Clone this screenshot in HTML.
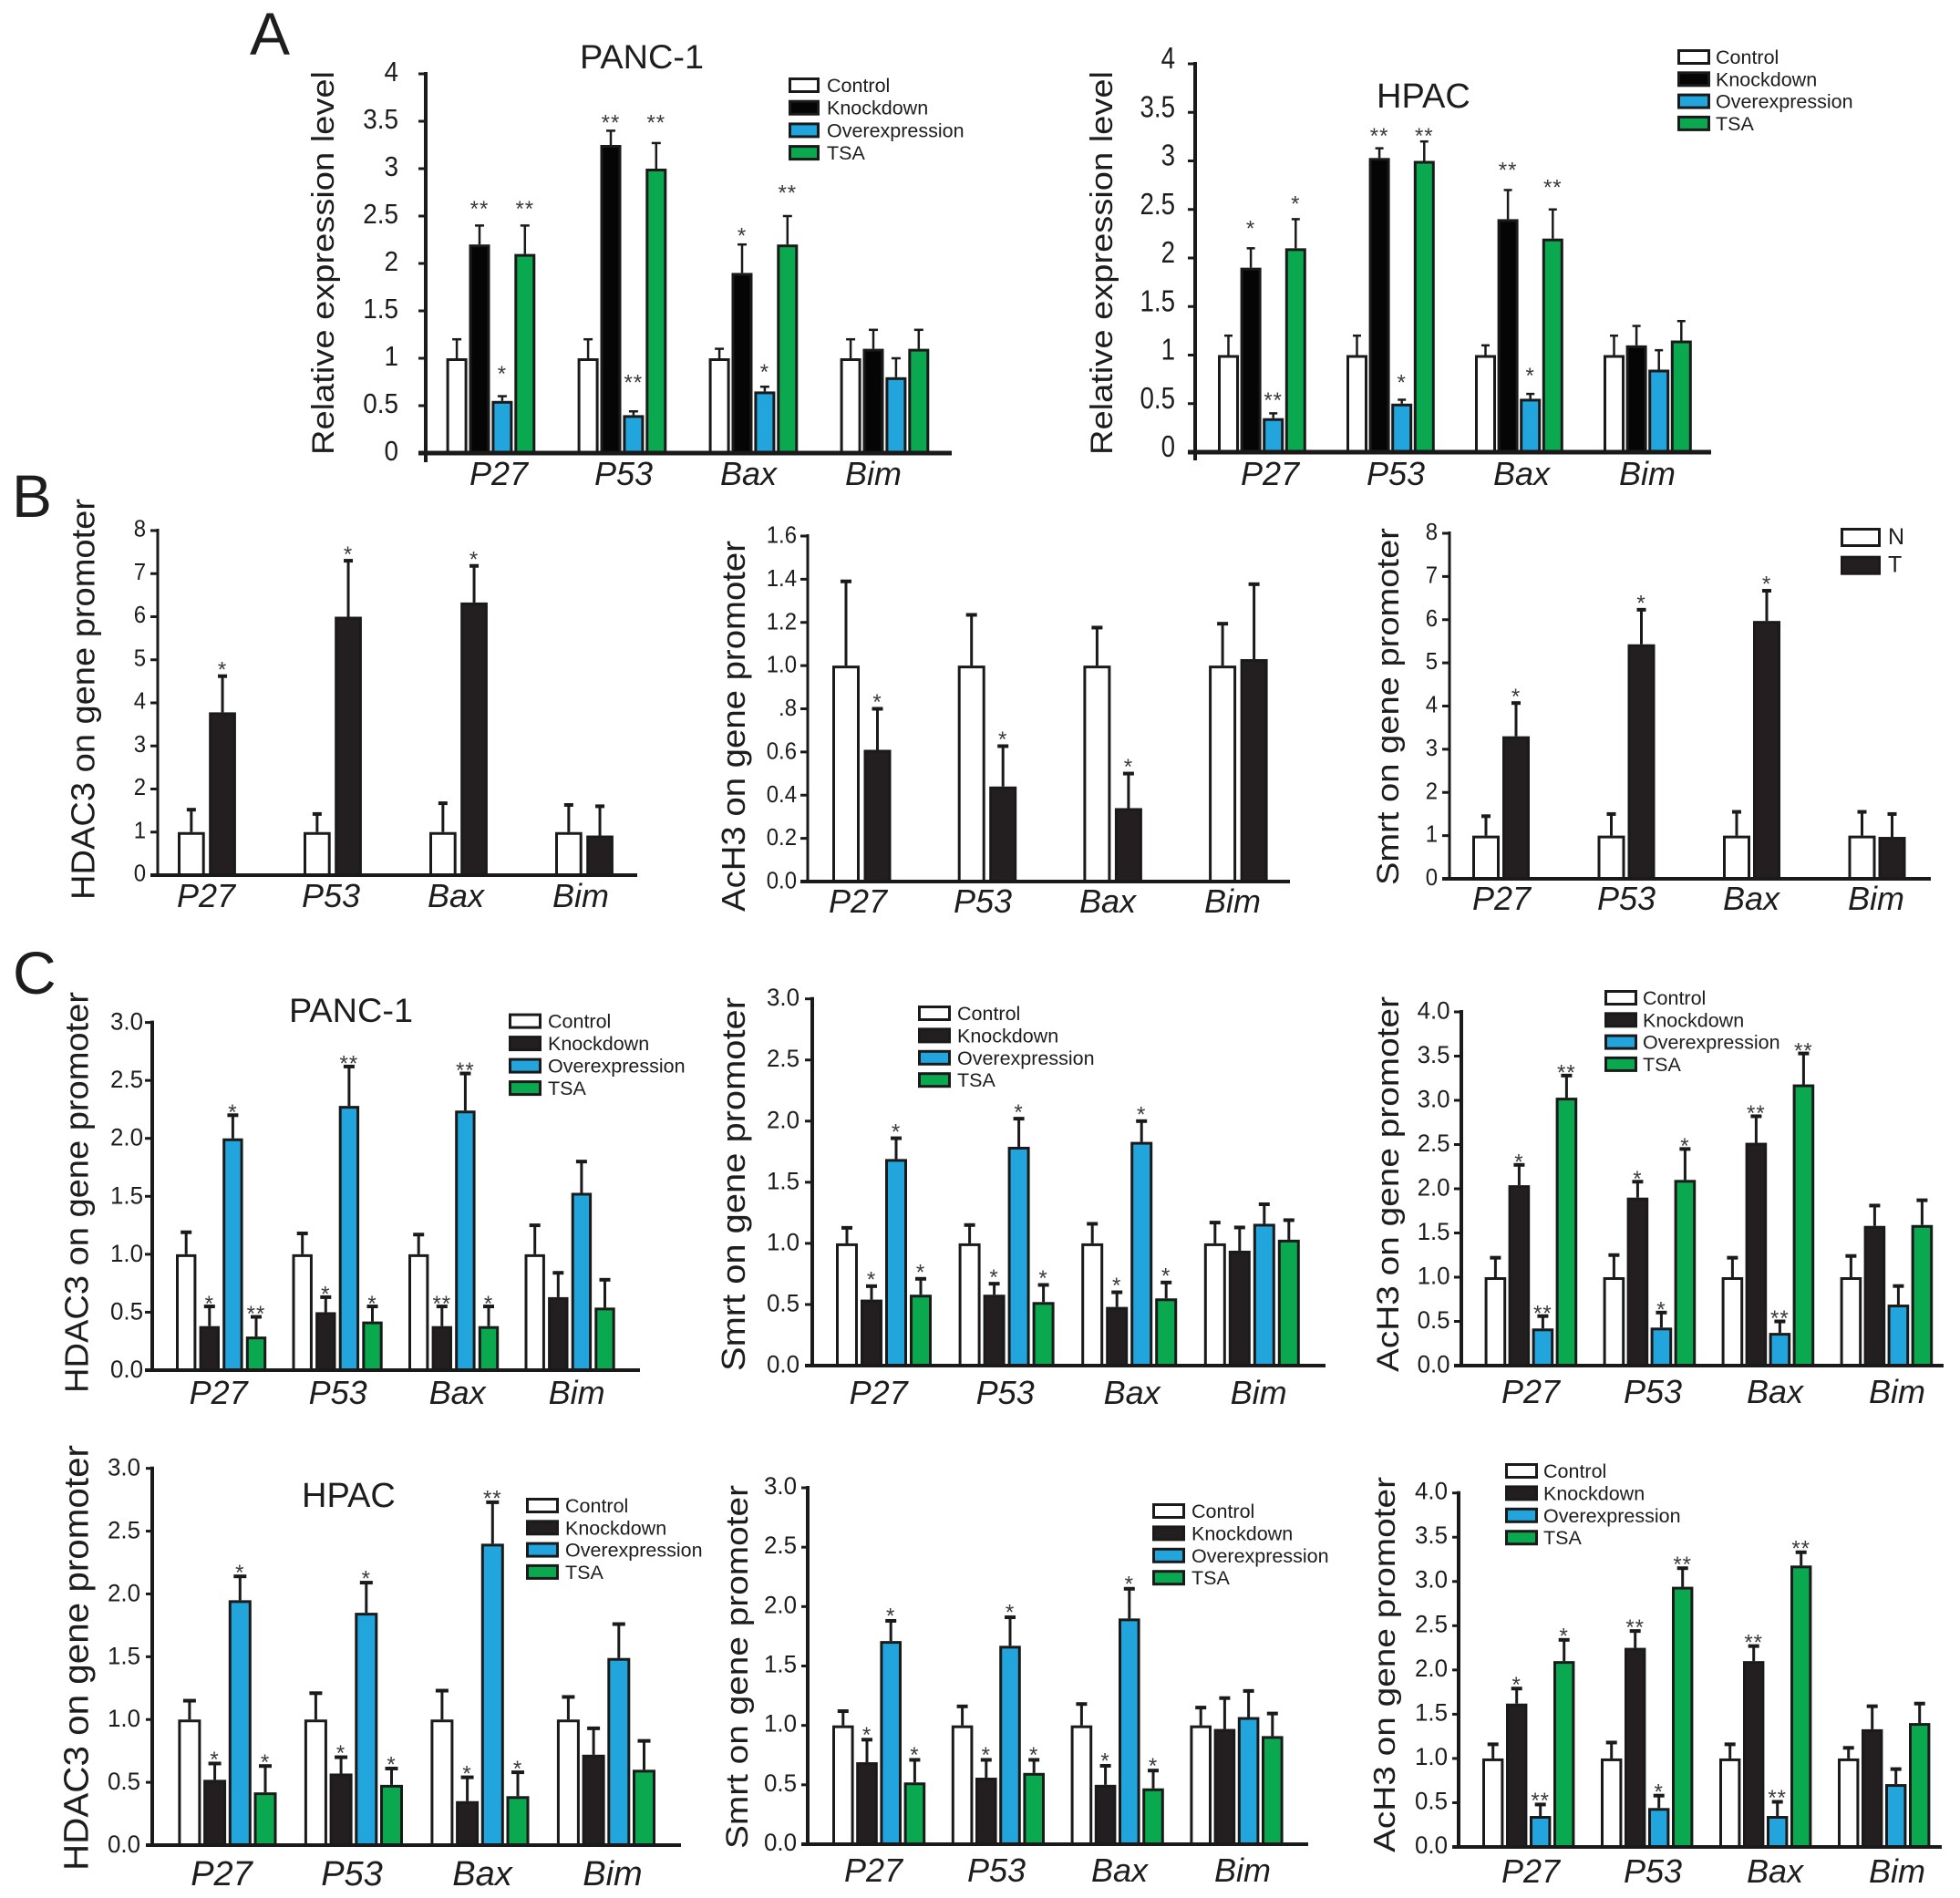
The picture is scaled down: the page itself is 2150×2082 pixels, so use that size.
<!DOCTYPE html>
<html lang="en">
<head>
<meta charset="utf-8">
<title>HDAC3 promoter occupancy and gene expression figure</title>
<style>
html,body{margin:0;padding:0;background:#fff;}
svg{display:block;font-family:"Liberation Sans",sans-serif;fill:#1d1d1d;}
</style>
</head>
<body>
<svg id="figure" xmlns="http://www.w3.org/2000/svg" width="2150" height="2082" viewBox="0 0 2150 2082">
  <rect width="2150" height="2082" fill="#fff"/>
  <text x="274" y="60" font-size="66">A</text>
  <text x="13" y="567" font-size="66">B</text>
  <text x="14" y="1090" font-size="66">C</text>

  <g id="a1">
    <text x="636" y="75" font-size="37" textLength="136" lengthAdjust="spacingAndGlyphs">PANC-1</text>
    <text transform="translate(366,499) rotate(-90)" font-size="34" textLength="421" lengthAdjust="spacingAndGlyphs">Relative expression level</text>
  </g>
  <g id="a2">
    <text x="1510" y="118" font-size="38">HPAC</text>
    <text transform="translate(1220,499) rotate(-90)" font-size="34" textLength="421" lengthAdjust="spacingAndGlyphs">Relative expression level</text>
  </g>
  <g id="b1">
    <text transform="translate(103.5,987) rotate(-90)" font-size="36" textLength="440" lengthAdjust="spacingAndGlyphs">HDAC3 on gene promoter</text>
  </g>
  <g id="b2">
    <text transform="translate(817,1000) rotate(-90)" font-size="36" textLength="407" lengthAdjust="spacingAndGlyphs">AcH3 on gene promoter</text>
  </g>
  <g id="b3">
    <text transform="translate(1534,971) rotate(-90)" font-size="34" textLength="392" lengthAdjust="spacingAndGlyphs">Smrt on gene promoter</text>
  </g>
  <g id="c1">
    <text x="317" y="1121" font-size="37" textLength="136" lengthAdjust="spacingAndGlyphs">PANC-1</text>
    <text transform="translate(96.5,1528) rotate(-90)" font-size="36" textLength="440" lengthAdjust="spacingAndGlyphs">HDAC3 on gene promoter</text>
  </g>
  <g id="c2">
    <text transform="translate(817,1504) rotate(-90)" font-size="36" textLength="410" lengthAdjust="spacingAndGlyphs">Smrt on gene promoter</text>
  </g>
  <g id="c3">
    <text transform="translate(1534,1505) rotate(-90)" font-size="34" textLength="412" lengthAdjust="spacingAndGlyphs">AcH3 on gene promoter</text>
  </g>
  <g id="c4">
    <text x="331" y="1653" font-size="38">HPAC</text>
    <text transform="translate(96.5,2052) rotate(-90)" font-size="38" textLength="467" lengthAdjust="spacingAndGlyphs">HDAC3 on gene promoter</text>
  </g>
  <g id="c5">
    <text transform="translate(820,2028) rotate(-90)" font-size="34" textLength="399" lengthAdjust="spacingAndGlyphs">Smrt on gene promoter</text>
  </g>
  <g id="c6">
    <text transform="translate(1530,2032) rotate(-90)" font-size="33" textLength="412" lengthAdjust="spacingAndGlyphs">AcH3 on gene promoter</text>
  </g>
</svg>

<script>
/* ---------- shared labels ---------- */
const categories = ['P27', 'P53', 'Bax', 'Bim'];
const treatmentNames = ['Control', 'Knockdown', 'Overexpression', 'TSA'];
const tissueNames = ['N', 'T'];

/* ---------- tick values and labels ---------- */
const ticksExpr = [0, 0.5, 1, 1.5, 2, 2.5, 3, 3.5, 4];
const ticksExprLabels = ['0', '0.5', '1', '1.5', '2', '2.5', '3', '3.5', '4'];
const ticksEight = [0, 1, 2, 3, 4, 5, 6, 7, 8];
const ticksEightLabels = ['0', '1', '2', '3', '4', '5', '6', '7', '8'];
const ticksAch = [0, 0.2, 0.4, 0.6, 0.8, 1, 1.2, 1.4, 1.6];
const ticksAchLabels = ['0.0', '0.2', '0.4', '0.6', '.8', '1.0', '1.2', '1.4', '1.6'];
const ticksThree = [0, 0.5, 1, 1.5, 2, 2.5, 3];
const ticksThreeLabels = ['0.0', '0.5', '1.0', '1.5', '2.0', '2.5', '3.0'];
const ticksFour = [0, 0.5, 1, 1.5, 2, 2.5, 3, 3.5, 4];
const ticksFourLabels = ['0.0', '0.5', '1.0', '1.5', '2.0', '2.5', '3.0', '3.5', '4.0'];

/* ---------- A: PANC-1 expression ---------- */
const a1Control = [1, 1, 1, 1];
const a1Knockdown = [2.2, 3.25, 1.9, 1.1];
const a1Over = [0.55, 0.4, 0.65, 0.8];
const a1Tsa = [2.1, 3, 2.2, 1.1];
const a1ControlTop = [1.2, 1.2, 1.1, 1.2];
const a1KnockdownTop = [2.4, 3.4, 2.2, 1.3];
const a1OverTop = [0.6, 0.44, 0.7, 1];
const a1TsaTop = [2.4, 3.27, 2.5, 1.3];
const a1Sig = [['', '**', '*', '**'], ['', '**', '**', '**'], ['', '*', '*', '**'], ['', '', '', '']];
const a1SigLevel = [[0, 2.63, 0.89, 2.63], [0, 3.54, 0.8, 3.54], [0, 2.35, 0.91, 2.8], [0, 0, 0, 0]];

/* ---------- A: HPAC expression ---------- */
const a2Control = [1, 1, 1, 1];
const a2Knockdown = [1.9, 3.03, 2.4, 1.1];
const a2Over = [0.35, 0.5, 0.55, 0.85];
const a2Tsa = [2.1, 3, 2.2, 1.15];
const a2ControlTop = [1.2, 1.2, 1.1, 1.2];
const a2KnockdownTop = [2.1, 3.13, 2.7, 1.3];
const a2OverTop = [0.4, 0.54, 0.6, 1.05];
const a2TsaTop = [2.4, 3.2, 2.5, 1.35];
const a2Sig = [['', '*', '**', '*'], ['', '**', '*', '**'], ['', '**', '*', '**'], ['', '', '', '']];
const a2SigLevel = [[0, 2.36, 0.59, 2.61], [0, 3.31, 0.77, 3.31], [0, 2.96, 0.84, 2.78], [0, 0, 0, 0]];

/* ---------- B: tissue ChIP ---------- */
const b1Normal = [1, 1, 1, 1];
const b1Tumor = [3.78, 6, 6.33, 0.92];
const b1NormalTop = [1.52, 1.42, 1.67, 1.63];
const b1TumorTop = [4.62, 7.3, 7.18, 1.6];
const b1Sig = [['', '*'], ['', '*'], ['', '*'], ['', '']];

const b2Normal = [1, 1, 1, 1];
const b2Tumor = [0.61, 0.44, 0.34, 1.03];
const b2NormalTop = [1.39, 1.235, 1.176, 1.194];
const b2TumorTop = [0.8, 0.627, 0.5, 1.377];
const b2Sig = [['', '*'], ['', '*'], ['', '*'], ['', '']];

const b3Normal = [1, 1, 1, 1];
const b3Tumor = [3.3, 5.43, 5.97, 0.97];
const b3NormalTop = [1.45, 1.5, 1.55, 1.55];
const b3TumorTop = [4.07, 6.23, 6.67, 1.5];
const b3Sig = [['', '*'], ['', '*'], ['', '*'], ['', '']];

/* ---------- C: PANC-1 ChIP ---------- */
const c1Control = [1, 1, 1, 1];
const c1Knockdown = [0.38, 0.5, 0.38, 0.63];
const c1Over = [2, 2.28, 2.24, 1.53];
const c1Tsa = [0.29, 0.42, 0.38, 0.54];
const c1ControlTop = [1.19, 1.18, 1.17, 1.25];
const c1KnockdownTop = [0.55, 0.63, 0.55, 0.84];
const c1OverTop = [2.2, 2.62, 2.56, 1.8];
const c1TsaTop = [0.46, 0.55, 0.55, 0.78];
const c1Sig = [['', '*', '*', '**'], ['', '*', '**', '*'], ['', '**', '**', '*'], ['', '', '', '']];

const c2Control = [1, 1, 1, 1];
const c2Knockdown = [0.54, 0.58, 0.48, 0.94];
const c2Over = [1.69, 1.79, 1.83, 1.16];
const c2Tsa = [0.58, 0.52, 0.55, 1.03];
const c2ControlTop = [1.127, 1.15, 1.16, 1.17];
const c2KnockdownTop = [0.65, 0.67, 0.6, 1.13];
const c2OverTop = [1.86, 2.02, 2, 1.32];
const c2TsaTop = [0.71, 0.66, 0.68, 1.19];
const c2Sig = [['', '*', '*', '*'], ['', '*', '*', '*'], ['', '*', '*', '*'], ['', '', '', '']];

const c3Control = [1, 1, 1, 1];
const c3Knockdown = [2.04, 1.9, 2.52, 1.58];
const c3Over = [0.42, 0.43, 0.37, 0.69];
const c3Tsa = [3.03, 2.1, 3.18, 1.59];
const c3ControlTop = [1.22, 1.25, 1.22, 1.24];
const c3KnockdownTop = [2.27, 2.08, 2.82, 1.81];
const c3OverTop = [0.56, 0.6, 0.5, 0.9];
const c3TsaTop = [3.28, 2.45, 3.53, 1.87];
const c3Sig = [['', '*', '**', '**'], ['', '*', '*', '*'], ['', '**', '**', '**'], ['', '', '', '']];

/* ---------- C: HPAC ChIP ---------- */
const c4Control = [1, 1, 1, 1];
const c4Knockdown = [0.52, 0.57, 0.35, 0.72];
const c4Over = [1.95, 1.85, 2.4, 1.49];
const c4Tsa = [0.42, 0.48, 0.39, 0.6];
const c4ControlTop = [1.15, 1.21, 1.23, 1.18];
const c4KnockdownTop = [0.65, 0.7, 0.54, 0.93];
const c4OverTop = [2.14, 2.09, 2.73, 1.76];
const c4TsaTop = [0.63, 0.61, 0.58, 0.83];
const c4Sig = [['', '*', '*', '*'], ['', '*', '*', '*'], ['', '*', '**', '*'], ['', '', '', '']];

const c5Control = [1, 1, 1, 1];
const c5Knockdown = [0.69, 0.56, 0.5, 0.97];
const c5Over = [1.71, 1.67, 1.9, 1.07];
const c5Tsa = [0.52, 0.6, 0.47, 0.91];
const c5ControlTop = [1.12, 1.16, 1.18, 1.15];
const c5KnockdownTop = [0.88, 0.71, 0.66, 1.23];
const c5OverTop = [1.88, 1.91, 2.15, 1.29];
const c5TsaTop = [0.71, 0.71, 0.62, 1.1];
const c5Sig = [['', '*', '*', '*'], ['', '*', '*', '*'], ['', '*', '*', '*'], ['', '', '', '']];

const c6Control = [1, 1, 1, 1];
const c6Knockdown = [1.62, 2.25, 2.1, 1.33];
const c6Over = [0.35, 0.44, 0.35, 0.71];
const c6Tsa = [2.1, 2.94, 3.18, 1.4];
const c6ControlTop = [1.16, 1.18, 1.16, 1.12];
const c6KnockdownTop = [1.79, 2.44, 2.27, 1.59];
const c6OverTop = [0.48, 0.58, 0.51, 0.88];
const c6TsaTop = [2.34, 3.15, 3.33, 1.62];
const c6Sig = [['', '*', '**', '*'], ['', '**', '*', '**'], ['', '**', '**', '**'], ['', '', '', '']];

/* ---------- panel layouts ---------- */
const COLOR_WHITE = '#ffffff', COLOR_BLACK = '#231f20', COLOR_DEEP = '#050505', COLOR_BLUE = '#22a5dd', COLOR_GREEN = '#0aa84f';
const fourFills = [COLOR_WHITE, COLOR_BLACK, COLOR_BLUE, COLOR_GREEN];
const fourFillsDeep = [COLOR_WHITE, COLOR_DEEP, COLOR_BLUE, COLOR_GREEN];
const twoFills = [COLOR_WHITE, COLOR_BLACK];

const panels = [
  {id:'a1', series:[a1Control,a1Knockdown,a1Over,a1Tsa], tops:[a1ControlTop,a1KnockdownTop,a1OverTop,a1TsaTop], sig:a1Sig, sigLevel:a1SigLevel,
   ticks:ticksExpr, tickLabels:ticksExprLabels, max:4, base:497, top:81, axisX:467, endX:1044, tickLen:8, axisW:4, baseW:5, below:10,
   start:489.6, groupPitch:144, barPitch:24.9, barW:23, sw:3, capW:10, capH:2.5, errW:2.5, starGap:15, fills:fourFillsDeep,
   tickFs:31, tickX:437, tickSx:0.9, tickDy:-3, labelX0:547, labelPitch:137, labelY:532, labelFs:36,
   legend:{x:865,y:85,pitch:24.7,w:34,h:16,tx:907,fs:21.5,names:treatmentNames}},
  {id:'a2', series:[a2Control,a2Knockdown,a2Over,a2Tsa], tops:[a2ControlTop,a2KnockdownTop,a2OverTop,a2TsaTop], sig:a2Sig, sigLevel:a2SigLevel,
   ticks:ticksExpr, tickLabels:ticksExprLabels, max:4, base:496, top:70, axisX:1311, endX:1877, tickLen:8, axisW:4, baseW:5, below:9,
   start:1336, groupPitch:141, barPitch:24.6, barW:23, sw:3, capW:9, capH:2.5, errW:2.5, starGap:19, fills:fourFillsDeep,
   tickFs:33, tickX:1289, tickSx:0.84, tickDy:-6.5, labelX0:1393, labelPitch:138, labelY:532, labelFs:36,
   legend:{x:1840,y:54,pitch:24.3,w:36,h:16,tx:1882,fs:21.5,names:treatmentNames}},
  {id:'b1', series:[b1Normal,b1Tumor], tops:[b1NormalTop,b1TumorTop], sig:b1Sig,
   ticks:ticksEight, tickLabels:ticksEightLabels, max:8, base:960, top:582, axisX:173, endX:699, tickLen:8, axisW:3, baseW:4, below:0,
   start:195, groupPitch:138, barPitch:34.2, barW:29.7, sw:3, capW:10, capH:4, errW:3, starGap:13, fills:twoFills,
   tickFs:26, tickX:160, tickSx:0.92, tickDy:-2.5, labelX0:226, labelPitch:137, labelY:995, labelFs:36},
  {id:'b2', series:[b2Normal,b2Tumor], tops:[b2NormalTop,b2TumorTop], sig:b2Sig,
   ticks:ticksAch, tickLabels:ticksAchLabels, max:1.6, base:967, top:588, axisX:886, endX:1415, tickLen:8, axisW:3, baseW:4, below:0,
   start:913, groupPitch:137.7, barPitch:34.5, barW:30, sw:3, capW:12, capH:4, errW:3, starGap:13, fills:twoFills,
   tickFs:26, tickX:874, tickSx:0.92, tickDy:-1.5, labelX0:941, labelPitch:137, labelY:1001, labelFs:36},
  {id:'b3', series:[b3Normal,b3Tumor], tops:[b3NormalTop,b3TumorTop], sig:b3Sig,
   ticks:ticksEight, tickLabels:ticksEightLabels, max:8, base:964, top:585, axisX:1590, endX:2118, tickLen:8, axisW:3, baseW:4, below:0,
   start:1615, groupPitch:137.5, barPitch:33, barW:30, sw:3, capW:10, capH:4, errW:3, starGap:13, fills:twoFills,
   tickFs:26, tickX:1577, tickSx:0.92, tickDy:-2, labelX0:1647, labelPitch:137, labelY:998, labelFs:36,
   legend:{x:2019,y:579,pitch:30.7,w:44,h:20,tx:2071,fs:25,tdy:-2,names:tissueNames}},
  {id:'c1', series:[c1Control,c1Knockdown,c1Over,c1Tsa], tops:[c1ControlTop,c1KnockdownTop,c1OverTop,c1TsaTop], sig:c1Sig,
   ticks:ticksThree, tickLabels:ticksThreeLabels, max:3, base:1503, top:1121.6, axisX:167, endX:702, tickLen:8, axisW:4, baseW:4, below:0,
   start:193, groupPitch:127.5, barPitch:25.6, barW:22.4, sw:3, capW:12, capH:4, errW:3, starGap:9, fills:fourFills,
   tickFs:27, tickX:157, tickSx:0.96, tickDy:-1.5, labelX0:239.6, labelPitch:131, labelY:1540, labelFs:36,
   legend:{x:558,y:1111.6,pitch:24.5,w:36,h:16,tx:601,fs:21.5,names:treatmentNames}},
  {id:'c2', series:[c2Control,c2Knockdown,c2Over,c2Tsa], tops:[c2ControlTop,c2KnockdownTop,c2OverTop,c2TsaTop], sig:c2Sig,
   ticks:ticksThree, tickLabels:ticksThreeLabels, max:3, base:1498, top:1095.7, axisX:891, endX:1454, tickLen:8, axisW:4, baseW:4, below:0,
   start:917, groupPitch:134.6, barPitch:27, barW:24, sw:3, capW:12, capH:4, errW:3, starGap:13, fills:fourFills,
   tickFs:27, tickX:877, tickSx:0.96, tickDy:-2, labelX0:963.6, labelPitch:139, labelY:1540, labelFs:36,
   legend:{x:1007,y:1103,pitch:24.4,w:36,h:16,tx:1050,fs:21.5,names:treatmentNames}},
  {id:'c3', series:[c3Control,c3Knockdown,c3Over,c3Tsa], tops:[c3ControlTop,c3KnockdownTop,c3OverTop,c3TsaTop], sig:c3Sig,
   ticks:ticksFour, tickLabels:ticksFourLabels, max:4, base:1498, top:1110, axisX:1603, endX:2132, tickLen:8, axisW:4, baseW:4, below:0,
   start:1628.6, groupPitch:130, barPitch:26, barW:23.6, sw:3, capW:12, capH:4, errW:3, starGap:9, fills:fourFills,
   tickFs:27, tickX:1590.6, tickSx:0.96, tickDy:-2, labelX0:1679, labelPitch:134, labelY:1539, labelFs:36,
   legend:{x:1760,y:1086,pitch:24.3,w:36,h:16,tx:1802,fs:21.5,names:treatmentNames}},
  {id:'c4', series:[c4Control,c4Knockdown,c4Over,c4Tsa], tops:[c4ControlTop,c4KnockdownTop,c4OverTop,c4TsaTop], sig:c4Sig,
   ticks:ticksThree, tickLabels:ticksThreeLabels, max:3, base:2024, top:1610.7, axisX:167, endX:747, tickLen:7, axisW:4, baseW:4, below:0,
   start:195.4, groupPitch:138.5, barPitch:27.7, barW:25, sw:3, capW:14, capH:4, errW:3, starGap:10, fills:fourFills,
   tickFs:27, tickX:154, tickSx:0.96, tickDy:-1.5, labelX0:243, labelPitch:143, labelY:2068, labelFs:38,
   legend:{x:577,y:1643,pitch:24.3,w:36,h:16,tx:620,fs:21.5,names:treatmentNames}},
  {id:'c5', series:[c5Control,c5Knockdown,c5Over,c5Tsa], tops:[c5ControlTop,c5KnockdownTop,c5OverTop,c5TsaTop], sig:c5Sig,
   ticks:ticksThree, tickLabels:ticksThreeLabels, max:3, base:2023, top:1632, axisX:886, endX:1435, tickLen:7, axisW:4, baseW:4, below:0,
   start:913, groupPitch:130.8, barPitch:26.2, barW:23.6, sw:3, capW:12, capH:4, errW:3, starGap:11, fills:fourFills,
   tickFs:27, tickX:874, tickSx:0.96, tickDy:-2.5, labelX0:958, labelPitch:135, labelY:2064, labelFs:36,
   legend:{x:1264,y:1649,pitch:24.4,w:36,h:16,tx:1307,fs:21.5,names:treatmentNames}},
  {id:'c6', series:[c6Control,c6Knockdown,c6Over,c6Tsa], tops:[c6ControlTop,c6KnockdownTop,c6OverTop,c6TsaTop], sig:c6Sig,
   ticks:ticksFour, tickLabels:ticksFourLabels, max:4, base:2026, top:1637.7, axisX:1600, endX:2130, tickLen:7, axisW:4, baseW:4, below:0,
   start:1626, groupPitch:130, barPitch:26, barW:23.4, sw:3, capW:12, capH:4, errW:3, starGap:10, fills:fourFills,
   tickFs:27, tickX:1588, tickSx:0.96, tickDy:-2.5, labelX0:1679, labelPitch:134, labelY:2065, labelFs:36,
   legend:{x:1651,y:1605,pitch:24.4,w:36,h:16,tx:1693,fs:21.5,names:treatmentNames}}
];

/* ---------- drawing ---------- */
const SVG_NS = 'http://www.w3.org/2000/svg';
function mk(parent, tag, attrs, text) {
  const el = document.createElementNS(SVG_NS, tag);
  for (const k in attrs) el.setAttribute(k, attrs[k]);
  if (text !== undefined) el.textContent = text;
  parent.appendChild(el);
  return el;
}

function drawPanel(p) {
  const g = document.getElementById(p.id);
  const yScale = v => p.base - (v / p.max) * (p.base - p.top);
  const xScale = (cat, ser) => p.start + cat * p.groupPitch + ser * p.barPitch;
  const ink = '#1a1a1a';
  const starFs = 24;

  p.series.forEach((vals, s) => {
    vals.forEach((v, c) => {
      const x = xScale(c, s);
      const cx = x + p.barW / 2;
      const yTop = yScale(p.tops[s][c]);

      const stem = mk(g, 'line', {x1:cx, x2:cx, y1:yScale(v), y2:yTop, stroke:ink, 'stroke-width':p.errW});
      
      

      const cap = mk(g, 'rect', {x:cx - p.capW / 2, y:yTop - p.capH / 2, width:p.capW, height:p.capH, fill:ink});
      
      

      const yV = yScale(v);
      const bar = mk(g, 'rect', {x:x + p.sw / 2, y:yV + p.sw / 2, width:p.barW - p.sw, height:Math.max(0, p.base - yV - p.sw / 2),
        fill:p.fills[s], stroke:ink, 'stroke-width':p.sw});
      
      

      const mark = p.sig[c][s];
      if (mark) {
        const centerY = p.sigLevel ? yScale(p.sigLevel[c][s]) : yTop - p.starGap;
        const star = mk(g, 'text', {x:cx, y:centerY + starFs * 0.57, 'font-size':starFs, 'text-anchor':'middle', fill:'#3a3a3a', 'letter-spacing':1}, mark);
        
        
      }
    });
  });

  const yAxis = mk(g, 'line', {x1:p.axisX, x2:p.axisX, y1:p.top - 2, y2:p.base + p.below, stroke:ink, 'stroke-width':p.axisW});
  
  

  const xAxis = mk(g, 'line', {x1:p.axisX - p.tickLen, x2:p.endX, y1:p.base, y2:p.base, stroke:ink, 'stroke-width':p.baseW});
  
  

  p.ticks.forEach((t, i) => {
    const y = yScale(t);
    const tick = mk(g, 'line', {x1:p.axisX - p.tickLen, x2:p.axisX, y1:y, y2:y, stroke:ink, 'stroke-width':3});
    
    

    const label = mk(g, 'text', {transform:'translate(' + p.tickX + ',' + (y + p.tickFs * 0.35 + p.tickDy) + ') scale(' + p.tickSx + ',1)',
      'font-size':p.tickFs, 'text-anchor':'end'}, p.tickLabels[i]);
    
    
  });

  categories.forEach((name, c) => {
    const label = mk(g, 'text', {x:p.labelX0 + c * p.labelPitch, y:p.labelY, 'font-size':p.labelFs, 'font-style':'italic', 'text-anchor':'middle'}, name);
    
    
  });

  if (p.legend) {
    const L = p.legend;
    L.names.forEach((name, i) => {
      const top = L.y + i * L.pitch;
      const entry = mk(g, 'g', {});
      
      

      const box = mk(entry, 'rect', {x:L.x + 1.5, y:top + 1.5, width:L.w - 3, height:L.h - 3 + 1, fill:p.fills[i], stroke:ink, 'stroke-width':3});
      
      

      const txt = mk(entry, 'text', {x:L.tx, y:top + L.h + (L.tdy || 0), 'font-size':L.fs}, name);
      
      
    });
  }
}

panels.forEach(drawPanel);
</script>
</body>
</html>
